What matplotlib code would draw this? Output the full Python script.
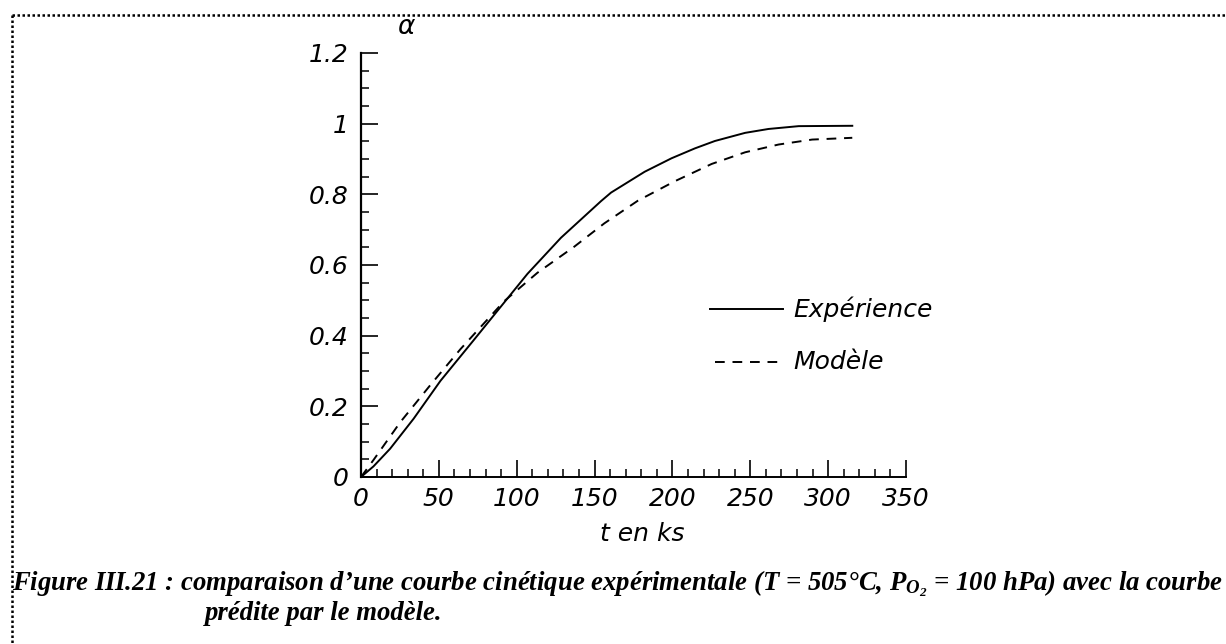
import numpy as np
import matplotlib
matplotlib.use("Agg")
import matplotlib.pyplot as plt
from matplotlib.lines import Line2D
from matplotlib.ticker import MultipleLocator

# Courbe expérimentale (t en ks, alpha)
t_exp = [0, 8, 18.7, 33.8, 51, 72.5, 91.8, 106.9, 128.4, 154.2, 160.6, 182.2,
         199.4, 214.4, 227.3, 246.7, 261.7, 281.1, 315.5]
a_exp = [0, 0.030, 0.080, 0.165, 0.272, 0.388, 0.493, 0.575, 0.677, 0.781, 0.805, 0.864,
         0.902, 0.930, 0.951, 0.974, 0.985, 0.993, 0.994]

# Courbe du modèle
t_mod = [0, 8.0, 25.2, 44.5, 63.9, 91.8, 113.3, 137, 156.3, 177.8, 201.5,
         225.2, 246.7, 268.2, 289.7, 315.5]
a_mod = [0, 0.048, 0.155, 0.260, 0.362, 0.497, 0.578, 0.652, 0.718, 0.782, 0.837,
         0.886, 0.919, 0.941, 0.955, 0.960]

xticks = [0, 50, 100, 150, 200, 250, 300, 350]
yticks = [0, 0.2, 0.4, 0.6, 0.8, 1.0, 1.2]
ytick_labels = ['0', '0.2', '0.4', '0.6', '0.8', '1', '1.2']

plt.rcParams['mathtext.fontset'] = 'custom'
plt.rcParams['mathtext.it'] = 'Liberation Serif:bold:italic'
plt.rcParams['mathtext.rm'] = 'Liberation Serif:bold:italic'

fig = plt.figure(figsize=(12.26, 6.44), dpi=100)
W, H = 1226, 644
ax = fig.add_axes([361 / W, 1 - 477 / H, (906 - 361) / W, (477 - 53) / H])

ax.plot(t_exp, a_exp, color='black', linewidth=1.4)
ax.plot(t_mod, a_mod, color='black', linewidth=1.4, linestyle=(0, (5, 4)))

ax.set_xlim(0, 350)
ax.set_ylim(0, 1.2)
ax.spines['top'].set_visible(False)
ax.spines['right'].set_visible(False)
ax.spines['left'].set_linewidth(1.6)
ax.spines['bottom'].set_linewidth(1.4)

ax.set_xticks(xticks)
ax.set_xticklabels([str(v) for v in xticks])
ax.set_yticks(yticks)
ax.set_yticklabels(ytick_labels)
ax.xaxis.set_minor_locator(MultipleLocator(10))
ax.yaxis.set_minor_locator(MultipleLocator(0.05))
ax.tick_params(which='major', direction='in', length=12, width=1.2, pad=7,
               labelsize=18)
ax.tick_params(which='minor', direction='in', length=6, width=1.1)
ax.tick_params(axis='y', which='major', pad=9)
for lab in ax.get_xticklabels() + ax.get_yticklabels():
    lab.set_fontfamily('DejaVu Sans')
    lab.set_fontstyle('oblique')

# légende
leg = dict(transform=fig.transFigure, color='black')
fig.add_artist(Line2D([710 / W, 783 / W], [1 - 309 / H] * 2, linewidth=1.4, **leg))
fig.add_artist(Line2D([715 / W, 778 / W], [1 - 362 / H] * 2, linewidth=1.4,
                      linestyle=(0, (5, 4)), **leg))
fig.text(793 / W, 1 - 309 / H, 'Expérience', fontsize=18, family='DejaVu Sans',
         style='oblique', va='center', ha='left')
fig.text(793 / W, 1 - 362 / H, 'Modèle', fontsize=18, family='DejaVu Sans',
         style='oblique', va='center', ha='left')

# titres d'axes
fig.text(406 / W, 1 - 27 / H, 'α', fontsize=19, family='DejaVu Sans',
         style='oblique', ha='center', va='center')
fig.text(642 / W, 1 - 534 / H, 't en ks', fontsize=18, family='DejaVu Sans',
         style='oblique', ha='center', va='center')

# cadre pointillé
fig.add_artist(Line2D([12 / W, 1.0], [1 - 15 / H] * 2, linewidth=1.8,
                      linestyle=(0, (1, 1.0)), **leg))
fig.add_artist(Line2D([12 / W, 12 / W], [1 - 15 / H, 0], linewidth=1.8,
                      linestyle=(0, (1, 1.0)), **leg))

# légende de la figure
cap = dict(fontsize=19.3, family='Liberation Serif', weight='bold', style='italic',
           va='center', ha='left')
fig.text(12 / W, 1 - 584 / H,
         "Figure III.21 : comparaison d\u2019une courbe cinétique expérimentale "
         "(T = 505°C, $P_{O_2}$ = 100 hPa) avec la courbe", **cap)
fig.text(205 / W, 1 - 614 / H, "prédite par le modèle.", **cap)

fig.savefig('out.png', dpi=100, facecolor='white')
